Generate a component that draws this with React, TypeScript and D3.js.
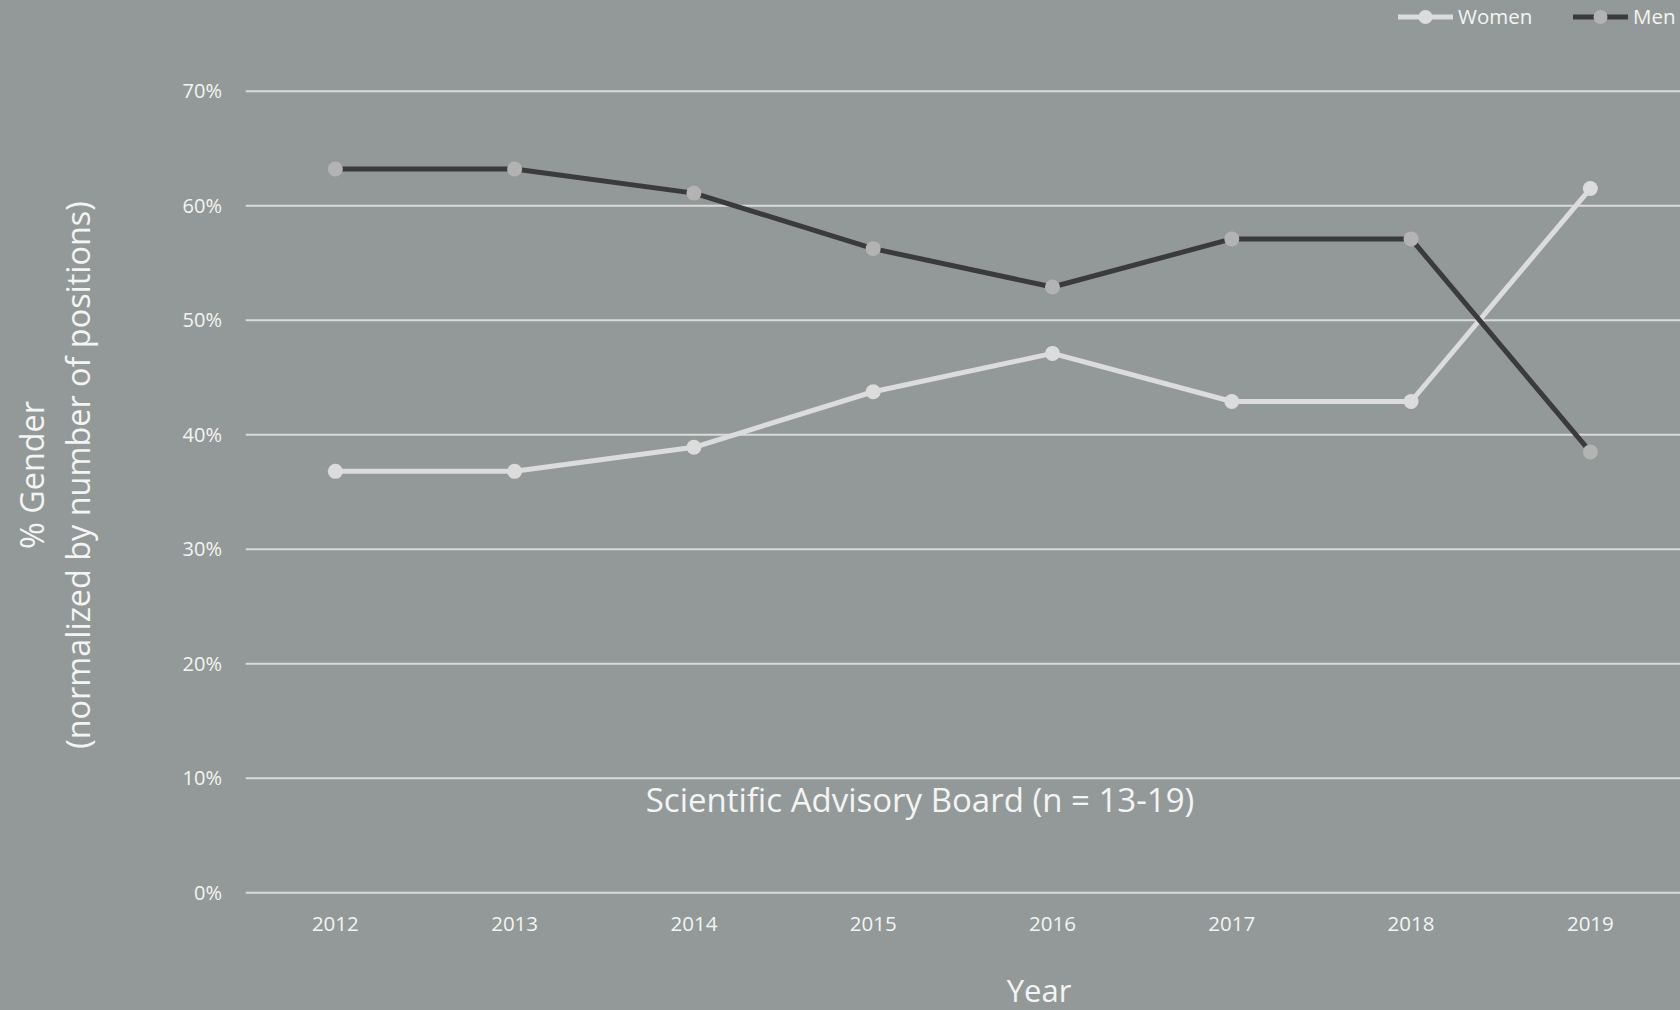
import React from "react";
import * as d3 from "d3";

const years = ["2012", "2013", "2014", "2015", "2016", "2017", "2018", "2019"];
const women = [36.8, 36.8, 38.9, 43.75, 47.1, 42.9, 42.9, 61.5];
const men = [63.2, 63.2, 61.1, 56.25, 52.9, 57.1, 57.1, 38.5];
const yTicks = [0, 10, 20, 30, 40, 50, 60, 70];
const seriesNames = ["Women", "Men"];

const W = 1680;
const H = 1010;
const BG = "#939998";
const TEXT = "#f4f4f4";
const FONT = "'Open Sans', sans-serif";

export default function App() {
  const x = d3.scaleBand<string>().domain(years).range([245.7, 1680]);
  const y = d3.scaleLinear().domain([0, 70]).range([892.7, 91.2]);
  const cx = (yr: string) => (x(yr) as number) + x.bandwidth() / 2;
  const line = d3
    .line<number>()
    .x((_, i) => cx(years[i]))
    .y((d) => y(d));

  const series = [
    { name: seriesNames[0], values: women, stroke: "#dcdcdc", marker: "#dcdcdc" },
    { name: seriesNames[1], values: men, stroke: "#3b3b3b", marker: "#b3b3b3" },
  ];

  const legendItems = [
    { s: series[0], x0: 1398 },
    { s: series[1], x0: 1573 },
  ];

  return (
    <svg
      width={W}
      height={H}
      style={{ position: "absolute", left: 0, top: 0, display: "block" }}
      fontFamily={FONT}
    >
      <rect x={0} y={0} width={W} height={H} fill={BG} />
      {yTicks.map((t) => (
        <g key={t}>
          <line x1={245.7} x2={1680} y1={y(t)} y2={y(t)} stroke="#dadada" strokeWidth={2} />
          <text
            x={222}
            y={y(t)}
            dy="0.35em"
            textAnchor="end"
            fontSize={20}
            fill={TEXT}
          >
            {t}%
          </text>
        </g>
      ))}
      {years.map((yr) => (
        <text key={yr} x={cx(yr)} y={931} textAnchor="middle" fontSize={20.5} fill={TEXT}>
          {yr}
        </text>
      ))}
      {series.map((s) => (
        <g key={s.name}>
          <path d={line(s.values) || ""} fill="none" stroke={s.stroke} strokeWidth={5} strokeLinejoin="round" />
          {s.values.map((v, i) => (
            <circle key={i} cx={cx(years[i])} cy={y(v)} r={7.5} fill={s.marker} />
          ))}
        </g>
      ))}
      <text x={920} y={812} textAnchor="middle" fontSize={33} fill={TEXT}>
        Scientific Advisory Board (n = 13-19)
      </text>
      <text x={1039} y={1002} textAnchor="middle" fontSize={31} fill={TEXT}>
        Year
      </text>
      <g transform="translate(0,475) rotate(-90)">
        <text x={0} y={44} textAnchor="middle" fontSize={32.4} fill={TEXT}>
          % Gender
        </text>
        <text x={0} y={90} textAnchor="middle" fontSize={32.4} fill={TEXT}>
          (normalized by number of positions)
        </text>
      </g>
      {legendItems.map(({ s, x0 }) => (
        <g key={s.name}>
          <line x1={x0} x2={x0 + 55} y1={17} y2={17} stroke={s.stroke} strokeWidth={5} />
          <circle cx={x0 + 27.5} cy={17} r={7} fill={s.marker} />
          <text x={x0 + 60} y={17} dy="0.36em" fontSize={20.5} fill={TEXT}>
            {s.name}
          </text>
        </g>
      ))}
    </svg>
  );
}
